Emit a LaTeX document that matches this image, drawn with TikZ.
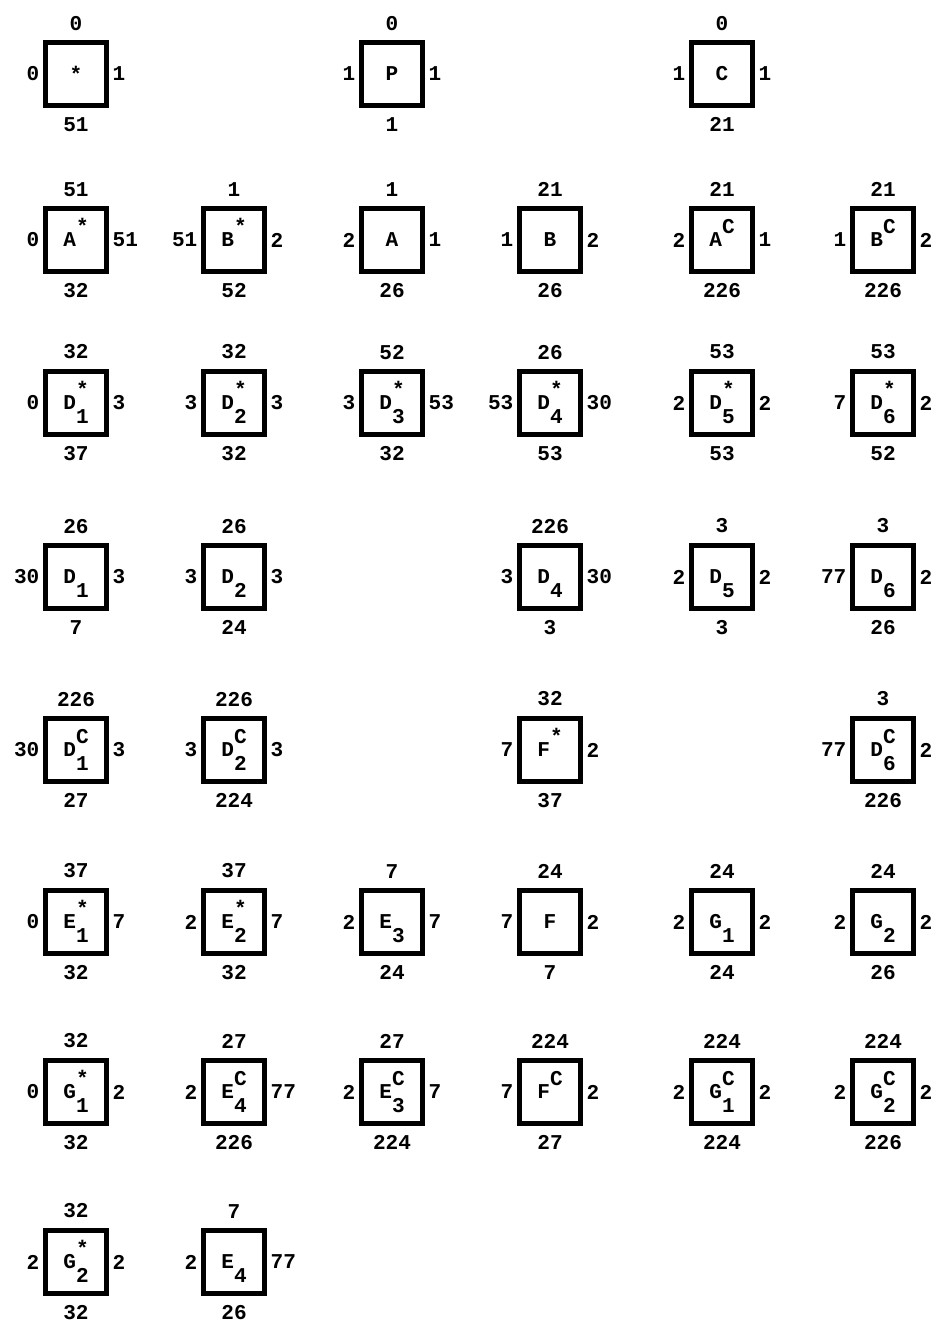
\documentclass[tikz,border=0pt]{standalone}
\usepackage{fontspec}
\setmonofont{Liberation Mono}
\usepackage{tikz}

\newcommand{\bname}[3]{#1\makebox[0.6em][l]{\smash{\rlap{\raisebox{7.5pt}{#2}}\raisebox{-7.5pt}{#3}}}}

\begin{document}
\begin{tikzpicture}[x=0.02cm, y=-0.02cm,
  every node/.style={font=\ttfamily\bfseries\fontsize{12}{14}\selectfont},
  cell/.style={draw, line width=2.6pt, minimum width=1.22cm, minimum height=1.26cm, inner sep=0pt},
  tb/.style={inner sep=5.5pt},
  side/.style={inner sep=2pt}]
\useasboundingbox (0,0) rectangle (938,1328);
\foreach \nm/\cx/\cy/\txt/\vt/\vl/\vr/\vb in {
  star/76/74/{*}/0/0/1/51,
  P/392/74/{P}/0/1/1/1,
  C/722/74/{C}/0/1/1/21,
  Astar/76/240/{\bname{A}{*}{}}/51/0/51/32,
  Bstar/234/240/{\bname{B}{*}{}}/1/51/2/52,
  A/392/240/{A}/1/2/1/26,
  B/550/240/{B}/21/1/2/26,
  AC/722/240/{\bname{A}{C}{}}/21/2/1/226,
  BC/883/240/{\bname{B}{C}{}}/21/1/2/226,
  Dstar1/76/403/{\bname{D}{*}{1}}/32/0/3/37,
  Dstar2/234/403/{\bname{D}{*}{2}}/32/3/3/32,
  Dstar3/392/403/{\bname{D}{*}{3}}/52/3/53/32,
  Dstar4/550/403/{\bname{D}{*}{4}}/26/53/30/53,
  Dstar5/722/403/{\bname{D}{*}{5}}/53/2/2/53,
  Dstar6/883/403/{\bname{D}{*}{6}}/53/7/2/52,
  D1/76/577/{\bname{D}{}{1}}/26/30/3/7,
  D2/234/577/{\bname{D}{}{2}}/26/3/3/24,
  D4/550/577/{\bname{D}{}{4}}/226/3/30/3,
  D5/722/577/{\bname{D}{}{5}}/3/2/2/3,
  D6/883/577/{\bname{D}{}{6}}/3/77/2/26,
  DC1/76/750/{\bname{D}{C}{1}}/226/30/3/27,
  DC2/234/750/{\bname{D}{C}{2}}/226/3/3/224,
  Fstar/550/750/{\bname{F}{*}{}}/32/7/2/37,
  DC6/883/750/{\bname{D}{C}{6}}/3/77/2/226,
  Estar1/76/922/{\bname{E}{*}{1}}/37/0/7/32,
  Estar2/234/922/{\bname{E}{*}{2}}/37/2/7/32,
  E3/392/922/{\bname{E}{}{3}}/7/2/7/24,
  F/550/922/{F}/24/7/2/7,
  G1/722/922/{\bname{G}{}{1}}/24/2/2/24,
  G2/883/922/{\bname{G}{}{2}}/24/2/2/26,
  Gstar1/76/1092/{\bname{G}{*}{1}}/32/0/2/32,
  EC4/234/1092/{\bname{E}{C}{4}}/27/2/77/226,
  EC3/392/1092/{\bname{E}{C}{3}}/27/2/7/224,
  FC/550/1092/{\bname{F}{C}{}}/224/7/2/27,
  GC1/722/1092/{\bname{G}{C}{1}}/224/2/2/224,
  GC2/883/1092/{\bname{G}{C}{2}}/224/2/2/226,
  Gstar2/76/1262/{\bname{G}{*}{2}}/32/2/2/32,
  E4/234/1262/{\bname{E}{}{4}}/7/2/77/26}
  \node[cell, label={[tb]above:\vt}, label={[tb]below:\vb},
        label={[side]left:\vl}, label={[side]right:\vr}] (\nm) at (\cx,\cy) {\txt};
\end{tikzpicture}
\end{document}
